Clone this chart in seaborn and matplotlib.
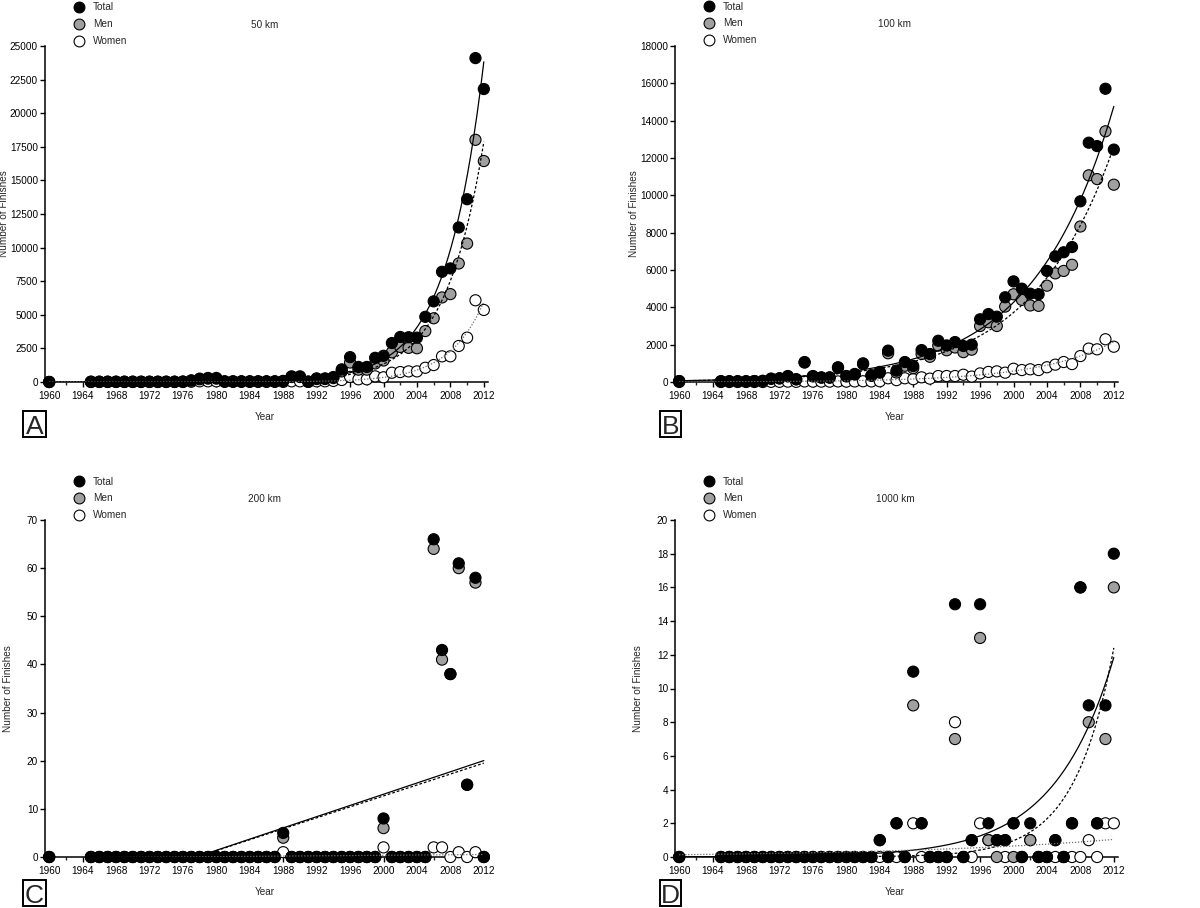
import numpy as np
import pandas as pd
import matplotlib
matplotlib.use("Agg")
import matplotlib.pyplot as plt
from matplotlib.lines import Line2D
from matplotlib.patches import Rectangle
from matplotlib.ticker import FixedLocator
import seaborn as sns

# ---------------- data ----------------
years = [1960] + list(range(1965, 2013))
series_names = ["Total", "Men", "Women"]

# 50 km
a_total = [0,
           20, 20, 20, 20, 20,
           20, 20, 20, 20, 20, 20, 30, 120, 250, 300,
           300, 50, 50, 50, 50, 50, 50, 50, 80, 420,
           420, 30, 270, 270, 370, 940, 1850, 1120, 1120, 1800,
           1950, 2900, 3350, 3330, 3300, 4850, 6000, 8200, 8450, 11500,
           13600, 24100, 21800]
a_men = [0,
         20, 20, 20, 20, 20,
         20, 20, 20, 20, 20, 20, 30, 100, 200, 250,
         250, 40, 40, 40, 40, 40, 40, 40, 70, 370,
         370, 20, 220, 220, 290, 790, 1450, 920, 920, 1380,
         1600, 2210, 2610, 2540, 2510, 3790, 4740, 6290, 6540, 8820,
         10300, 18020, 16440]
a_women = [0,
           0, 0, 0, 0, 0,
           0, 0, 0, 0, 0, 0, 0, 20, 50, 50,
           50, 10, 10, 10, 10, 10, 10, 10, 10, 50,
           50, 10, 50, 50, 80, 150, 380, 200, 200, 420,
           350, 690, 740, 790, 790, 1060, 1260, 1910, 1910, 2680,
           3300, 6080, 5360]

# 100 km
b_total = [50,
           40, 40, 40, 40, 50,
           60, 180, 200, 320, 150, 1070, 320, 250, 250, 790,
           320, 430, 1000, 360, 540, 1680, 610, 1070, 860, 1710,
           1500, 2210, 1960, 2140, 1930, 2000, 3360, 3640, 3500, 4540,
           5390, 5000, 4730, 4700, 5950, 6730, 6950, 7230, 9680, 12820,
           12640, 15710, 12450]
b_men = [50,
         40, 40, 40, 40, 50,
         60, 170, 190, 300, 140, 1040, 300, 230, 230, 760,
         300, 400, 960, 330, 500, 1540, 510, 870, 740, 1500,
         1350, 1950, 1700, 1850, 1600, 1730, 3000, 3200, 3000, 4040,
         4700, 4400, 4100, 4080, 5160, 5820, 5950, 6280, 8330, 11070,
         10870, 13430, 10570]
b_women = [0,
           0, 0, 0, 0, 0,
           0, 10, 10, 20, 10, 30, 20, 20, 20, 30,
           20, 30, 40, 30, 40, 200, 100, 200, 150, 250,
           180, 320, 320, 320, 390, 290, 460, 540, 570, 500,
           710, 640, 680, 640, 790, 930, 1070, 960, 1390, 1790,
           1750, 2290, 1890]

# 200 km
c_total = [0,
           0, 0, 0, 0, 0,
           0, 0, 0, 0, 0, 0, 0, 0, 0, 0,
           0, 0, 0, 0, 0, 0, 0, 0, 5, 0,
           0, 0, 0, 0, 0, 0, 0, 0, 0, 0,
           8, 0, 0, 0, 0, 0, 66, 43, 38, 61,
           15, 58, 0]
c_men = [0,
         0, 0, 0, 0, 0,
         0, 0, 0, 0, 0, 0, 0, 0, 0, 0,
         0, 0, 0, 0, 0, 0, 0, 0, 4, 0,
         0, 0, 0, 0, 0, 0, 0, 0, 0, 0,
         6, 0, 0, 0, 0, 0, 64, 41, 38, 60,
         15, 57, 0]
c_women = [0,
           0, 0, 0, 0, 0,
           0, 0, 0, 0, 0, 0, 0, 0, 0, 0,
           0, 0, 0, 0, 0, 0, 0, 0, 1, 0,
           0, 0, 0, 0, 0, 0, 0, 0, 0, 0,
           2, 0, 0, 0, 0, 0, 2, 2, 0, 1,
           0, 1, 0]

# 1000 km
d_total = [0,
           0, 0, 0, 0, 0,
           0, 0, 0, 0, 0, 0, 0, 0, 0, 0,
           0, 0, 0, 0, 1, 0, 2, 0, 11, 2,
           0, 0, 0, 15, 0, 1, 15, 2, 1, 1,
           2, 0, 2, 0, 0, 1, 0, 2, 16, 9,
           2, 9, 18]
d_men = [0,
         0, 0, 0, 0, 0,
         0, 0, 0, 0, 0, 0, 0, 0, 0, 0,
         0, 0, 0, 0, 1, 0, 2, 0, 9, 2,
         0, 0, 0, 7, 0, 1, 13, 1, 0, 1,
         0, 0, 1, 0, 0, 1, 0, 2, 16, 8,
         2, 7, 16]
d_women = [0,
           0, 0, 0, 0, 0,
           0, 0, 0, 0, 0, 0, 0, 0, 0, 0,
           0, 0, 0, 0, 0, 0, 0, 0, 2, 0,
           0, 0, 0, 8, 0, 0, 2, 1, 1, 0,
           2, 0, 1, 0, 0, 0, 0, 0, 0, 1,
           0, 2, 2]

panel_titles = ["50 km", "100 km", "200 km", "1000 km"]
panel_letters = ["A", "B", "C", "D"]
y_max = [25000, 18000, 70, 20]
y_step = [2500, 2000, 10, 2]
fit_kind = ["exp", "exp", "lin", "exp"]
x_ticks = list(range(1960, 2013, 4))
x_minor = list(range(1962, 2013, 4))

# ---------------- style ----------------
sns.set_theme(style="ticks")
plt.rcParams["font.family"] = ["Liberation Sans", "DejaVu Sans"]
FS = 7.2
colors = {"Total": "#000000", "Men": "#a0a0a0", "Women": "#ffffff"}
W, H = 1200, 908


def fx(px):
    return px / W


def fy(py):
    return 1 - py / H


def exp_fit(x, y):
    x = np.asarray(x, float)
    y = np.asarray(y, float)
    best = None
    for k in np.linspace(-0.2, 1.0, 12001):
        f = np.exp(k * (x - 2012))
        a = (y @ f) / (f @ f)
        sse = ((y - a * f) ** 2).sum()
        if best is None or sse < best[0]:
            best = (sse, a, k)
    return lambda t: best[1] * np.exp(best[2] * (t - 2012))


def lin_fit(x, y):
    p = np.polyfit(np.asarray(x, float), np.asarray(y, float), 1)
    return lambda t: np.polyval(p, t)


fig = plt.figure(figsize=(12, 9.08), dpi=100)

# axes geometry in pixels: (left, top, bottom)
geo = [(45, 46, 382), (675, 46, 382), (45, 520, 857), (675, 520, 857)]
ax_w = 443
legend_pos = [(79, 9), (709, 8), (79, 483), (709, 483)]
title_pos = [(265, 25), (895, 24), (265, 499), (895, 499)]
year_pos = [(265, 417), (895, 417), (265, 892), (895, 892)]
ylab_x = [4, 634, 8, 638]
letter_box = [(23, 411, 23, 26), (660, 411, 21, 26), (23, 880, 23, 26), (660, 880, 21, 26)]

data = [(a_total, a_men, a_women), (b_total, b_men, b_women),
        (c_total, c_men, c_women), (d_total, d_men, d_women)]

for i in range(4):
    left, top, bot = geo[i]
    ax = fig.add_axes([fx(left), fy(bot), ax_w / W, (bot - top) / H])
    tot, men, wom = data[i]
    df = pd.DataFrame({
        "Year": years * 3,
        "Finishes": list(wom) + list(men) + list(tot),
        "Series": ["Women"] * len(years) + ["Men"] * len(years) + ["Total"] * len(years),
    })
    # fitted curves
    xs = np.linspace(1960, 2012, 400)
    styles = {"Total": dict(color="black", lw=0.9, ls="-"),
              "Men": dict(color="black", lw=0.9, ls=(0, (2.2, 1.6))),
              "Women": dict(color="#707070", lw=0.9, ls=(0, (1, 1.4)))}
    for name, vals in zip(series_names, (tot, men, wom)):
        f = exp_fit(years, vals) if fit_kind[i] == "exp" else lin_fit(years, vals)
        ax.plot(xs, f(xs), zorder=4, **styles[name])

    sns.scatterplot(data=df, x="Year", y="Finishes", hue="Series",
                    hue_order=series_names, palette=colors, s=64,
                    edgecolor="black", linewidth=0.8, legend=False,
                    clip_on=False, zorder=3, ax=ax)

    ax.set_xlim(1959.5, 2012.5)
    ax.set_ylim(0, y_max[i])
    ax.xaxis.set_major_locator(FixedLocator(x_ticks))
    ax.xaxis.set_minor_locator(FixedLocator(x_minor))
    ax.yaxis.set_major_locator(FixedLocator(list(range(0, y_max[i] + 1, y_step[i]))))
    ax.set_xlabel("")
    ax.set_ylabel("")
    for s in ["top", "right"]:
        ax.spines[s].set_visible(False)
    for s in ["left", "bottom"]:
        ax.spines[s].set_linewidth(1.1)
        ax.spines[s].set_color("black")
    ax.tick_params(axis="both", which="major", direction="out", length=3.5, width=1.0,
                   labelsize=FS, colors="black")
    ax.tick_params(axis="x", which="major", pad=3.0)
    ax.tick_params(axis="y", which="major", pad=1.5)
    ax.tick_params(axis="x", which="minor", direction="out", length=2.5, width=1.0)
    ax.set_facecolor("white")

    # legend
    handles = [Line2D([], [], marker="o", ls="", markersize=7.8,
                      markerfacecolor=colors[n], markeredgecolor="black",
                      markeredgewidth=0.8) for n in series_names]
    mx, my = legend_pos[i]
    ax.legend(handles, series_names, loc="upper left", frameon=False,
              bbox_to_anchor=(fx(mx - 4.9), fy(my - 6.5)), bbox_transform=fig.transFigure,
              fontsize=FS, handlelength=1.0, handletextpad=0.9, borderpad=0,
              borderaxespad=0, labelspacing=0.68)

    # texts
    tx, ty = title_pos[i]
    fig.text(fx(tx), fy(ty), panel_titles[i], ha="center", va="center", fontsize=FS)
    yx, yy = year_pos[i]
    fig.text(fx(yx), fy(yy), "Year", ha="center", va="center", fontsize=FS)
    fig.text(fx(ylab_x[i]), fy((top + bot) / 2), "Number of Finishes", rotation=90,
             ha="center", va="center", fontsize=FS)
    bx, by, bw, bh = letter_box[i]
    fig.add_artist(Rectangle((fx(bx), fy(by + bh)), bw / W, bh / H, transform=fig.transFigure,
                             fill=False, lw=1.4, ec="black"))
    fig.text(fx(bx + bw / 2), fy(by + bh - 3), panel_letters[i], ha="center", va="baseline",
             fontsize=19)

fig.savefig("out.png", dpi=100, facecolor="white")
